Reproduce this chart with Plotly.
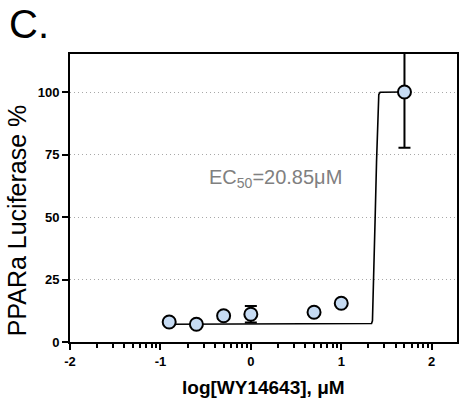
import plotly.graph_objects as go
import math

# ---- data ----
log_conc = [-0.903, -0.602, -0.301, 0.0, 0.699, 1.0, 1.699]
response = [8.0, 7.1, 10.5, 11.1, 11.9, 15.5, 100.0]
err = [1.0, 0.6, 1.2, 3.3, 1.0, 1.0, 22.3]

# fitted curve
curve_x = [-0.903, 1.30, 1.335, 1.345, 1.36, 1.375, 1.39, 1.405, 1.415, 1.43, 1.699]
curve_y = [7.1, 7.1, 7.4, 8.5, 25.0, 50.0, 72.0, 92.0, 99.0, 99.9, 100.0]

x_tick_vals = [-2, -1, 0, 1, 2]
x_tick_labels = ["-2", "-1", "0", "1", "2"]
y_tick_vals = [0, 25, 50, 75, 100]
y_tick_labels = ["0", "25", "50", "75", "100"]

panel_label = "C."
y_title = "PPARa Luciferase %"
x_title = "log[WY14643], μM"
ec50_text = "EC<sub>50</sub>=20.85μM"

# minor ticks at log positions between decades
minor_vals = [d + math.log10(k) for d in range(-2, 3) for k in range(2, 10)]
minor_vals = [v for v in minor_vals if v < 2.28]

# ---- layout geometry (pixels) ----
W, H = 461, 405
L, T = 70, 54
R = W - 459
B = H - 342
pw, ph = W - L - R, H - T - B

def px2paper(px, py):
    return (px - L) / pw, (H - B - py) / ph

FONT = "Liberation Sans, Arial"

fig = go.Figure()
fig.add_trace(go.Scatter(
    x=curve_x, y=curve_y, mode="lines",
    line=dict(color="black", width=1.6), hoverinfo="skip", showlegend=False))
fig.add_trace(go.Scatter(
    x=log_conc, y=response, mode="markers",
    marker=dict(size=13, color="#c6dbf3", line=dict(color="black", width=2)),
    error_y=dict(type="data", array=err, visible=True, color="black",
                 thickness=2, width=6),
    showlegend=False))

fig.update_xaxes(
    range=[-2, 2.28], tickvals=x_tick_vals, ticktext=x_tick_labels,
    showline=True, linecolor="black", linewidth=2, mirror=True,
    ticks="outside", ticklen=6, tickwidth=2, tickcolor="black",
    showgrid=False, zeroline=False,
    tickfont=dict(family=FONT, size=13, color="black", weight="bold"),
    minor=dict(tickvals=minor_vals, ticks="outside", ticklen=4, tickwidth=1.6,
               tickcolor="black", showgrid=False),
)
fig.update_yaxes(
    range=[0, 115.2], tickvals=y_tick_vals, ticktext=y_tick_labels,
    showline=True, linecolor="black", linewidth=2, mirror=True,
    ticks="outside", ticklen=6, tickwidth=2, tickcolor="black",
    showgrid=True, gridcolor="#a8a8a8", gridwidth=1, griddash="1px,3px",
    zeroline=False,
    tickfont=dict(family=FONT, size=13, color="black", weight="bold"),
)

anns = []
x0, y0 = px2paper(7, 24)
anns.append(dict(x=x0, y=y0, xref="paper", yref="paper", text=panel_label,
                 showarrow=False, xanchor="left", yanchor="middle",
                 font=dict(family=FONT, size=40, color="black")))
x0, y0 = px2paper(17, 220)
anns.append(dict(x=x0, y=y0, xref="paper", yref="paper", text=y_title,
                 showarrow=False, textangle=-90, xanchor="center", yanchor="middle",
                 font=dict(family=FONT, size=25, color="black")))
x0, y0 = px2paper(264, 387)
anns.append(dict(x=x0, y=y0, xref="paper", yref="paper", text=x_title,
                 showarrow=False, xanchor="center", yanchor="middle",
                 font=dict(family=FONT, size=19, color="black", weight="bold")))
x0, y0 = px2paper(277, 178)
anns.append(dict(x=x0, y=y0, xref="paper", yref="paper", text=ec50_text,
                 showarrow=False, xanchor="center", yanchor="middle",
                 font=dict(family=FONT, size=20, color="#808080")))

fig.update_layout(
    width=W, height=H, margin=dict(l=L, r=R, t=T, b=B),
    paper_bgcolor="white", plot_bgcolor="white",
    annotations=anns,
)
fig.write_html("out.html",
               config={"displayModeBar": False},
               post_script="document.body.style.margin='0px';document.body.style.overflow='hidden';")
